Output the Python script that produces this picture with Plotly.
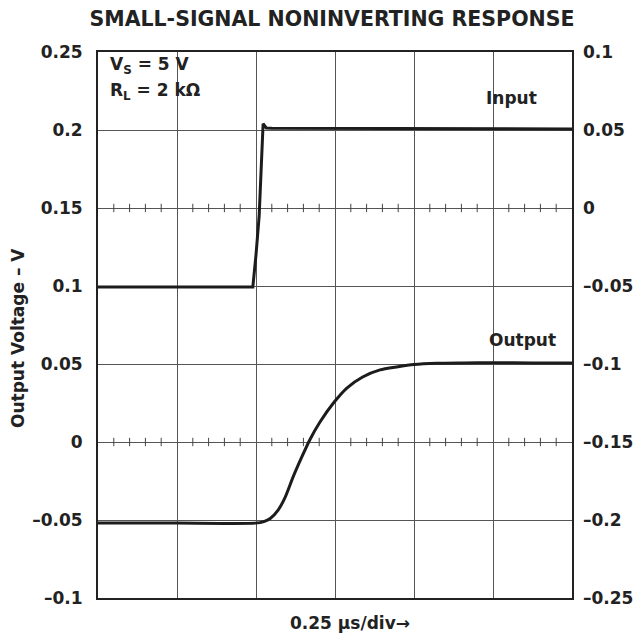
import plotly.graph_objects as go

# Time in divisions (0.25 us/div)
input_t = [0.0, 1.0, 1.96, 2.0, 2.04, 2.09, 2.13, 2.2, 3.0, 4.0, 5.0, 6.0]
input_v = [-0.0506, -0.0506, -0.0506, -0.03, -0.005, 0.054, 0.0513, 0.0512, 0.0511, 0.0510, 0.0508, 0.0506]

output_t = [0.0, 1.0, 1.99, 2.1, 2.18, 2.28, 2.37, 2.47, 2.58, 2.68, 2.81, 2.99, 3.15,
            3.35, 3.57, 3.78, 4.0, 4.29, 4.62, 5.0, 5.5, 6.0]
output_v = [-0.052, -0.052, -0.052, -0.051, -0.049, -0.0436, -0.0353, -0.0224, -0.0096, 0.0013,
            0.0128, 0.0256, 0.0346, 0.0417, 0.0462, 0.0481, 0.0497, 0.0505, 0.0507, 0.0508, 0.0507, 0.0506]

left_ticks = [0.25, 0.2, 0.15, 0.1, 0.05, 0.0, -0.05, -0.1]
left_text = ["0.25", "0.2", "0.15", "0.1", "0.05", "0", "\u20130.05", "\u20130.1"]
right_ticks = [0.1, 0.05, 0.0, -0.05, -0.1, -0.15, -0.2, -0.25]
right_text = ["0.1", "0.05", "0", "\u20130.05", "\u20130.1", "\u20130.15", "\u20130.2", "\u20130.25"]

minor_x = [k * 0.2 for k in range(1, 30) if k % 5 != 0]
minor_rows = [0.15, 0.0]

ink = "#1c1c1c"
fam = "DejaVu Sans, Liberation Sans, Arial, sans-serif"
font = dict(family=fam, size=17, color="#222", weight="bold")

fig = go.Figure()

for yr in minor_rows:
    fig.add_trace(go.Scatter(x=minor_x, y=[yr] * len(minor_x), mode="markers",
                             marker=dict(symbol="line-ns", size=6, line=dict(width=1, color="#444")),
                             hoverinfo="skip", showlegend=False, yaxis="y"))

fig.add_trace(go.Scatter(x=output_t, y=output_v, mode="lines",
                         line=dict(color=ink, width=3, shape="spline", smoothing=0.6),
                         showlegend=False, yaxis="y"))
fig.add_trace(go.Scatter(x=input_t, y=input_v, mode="lines", line=dict(color=ink, width=3),
                         showlegend=False, yaxis="y2"))

fig.update_layout(
    width=636, height=637,
    margin=dict(l=98, r=64, t=52, b=39),
    paper_bgcolor="white", plot_bgcolor="white",
    font=font,
    title=dict(text="SMALL-SIGNAL NONINVERTING RESPONSE", x=0.522, xanchor="center", xref="container",
               y=0.970, yanchor="middle", yref="container",
               font=dict(family=fam, size=20.5, color="#222", weight="bold")),
    xaxis=dict(range=[0, 6], dtick=1, tick0=0, showticklabels=False, ticks="",
               showgrid=True, gridcolor="#555", gridwidth=1, zeroline=False, automargin=False,
               showline=True, linecolor="#222", linewidth=2, mirror=True),
    yaxis=dict(range=[-0.1, 0.25], tickvals=left_ticks, ticktext=left_text, ticks="",
               ticklabelstandoff=10, automargin=False,
               showgrid=True, gridcolor="#555", gridwidth=1, zeroline=False,
               showline=True, linecolor="#222", linewidth=2, mirror=True),
    yaxis2=dict(range=[-0.25, 0.1], tickvals=right_ticks, ticktext=right_text, ticks="",
                ticklabelstandoff=10, automargin=False,
                overlaying="y", side="right", showgrid=False, zeroline=False, showline=False),
    annotations=[
        dict(text="V<sub>S</sub> = 5 V", x=0.021, y=0.976, xref="paper", yref="paper",
             xanchor="left", yanchor="middle", showarrow=False, font=font),
        dict(text="R<sub>L</sub> = 2 k\u03a9", x=0.021, y=0.928, xref="paper", yref="paper",
             xanchor="left", yanchor="middle", showarrow=False, font=font),
        dict(text="Input", x=0.873, y=0.916, xref="paper", yref="paper",
             xanchor="center", yanchor="middle", showarrow=False, font=font),
        dict(text="Output", x=0.895, y=0.4725, xref="paper", yref="paper",
             xanchor="center", yanchor="middle", showarrow=False, font=font),
        dict(text="0.25 \u00b5s/div\u2192", x=0.532, y=-0.0458, xref="paper", yref="paper",
             xanchor="center", yanchor="middle", showarrow=False, font=font),
        dict(text="Output Voltage \u2013 V", x=-0.169, y=0.476, xref="paper", yref="paper",
             xanchor="center", yanchor="middle", textangle=-90, showarrow=False, font=font),
    ],
)

fig.write_html("out.html")
